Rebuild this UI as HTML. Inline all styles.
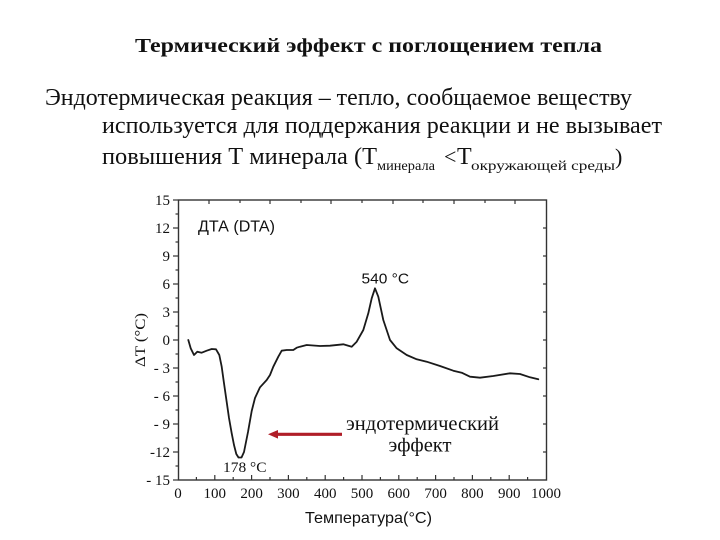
<!DOCTYPE html>
<html><head><meta charset="utf-8"><style>
html,body{margin:0;padding:0;background:#fff;}
svg{display:block;}
.serif{font-family:"Liberation Serif","Noto Serif CJK SC",serif;fill:#111;}
.sans{font-family:"Liberation Sans","Noto Sans CJK SC",sans-serif;fill:#111;}
</style></head><body>
<svg width="720" height="540" viewBox="0 0 720 540" xmlns="http://www.w3.org/2000/svg">
<rect width="720" height="540" fill="#fff"/>
<!-- heading text -->
<text class="serif" x="135" y="52" font-size="20" font-weight="bold" textLength="467" lengthAdjust="spacingAndGlyphs">Термический эффект с поглощением тепла</text>
<text class="serif" x="45" y="105" font-size="24" textLength="587" lengthAdjust="spacingAndGlyphs">Эндотермическая реакция – тепло, сообщаемое веществу</text>
<text class="serif" x="102" y="133" font-size="24" textLength="560" lengthAdjust="spacingAndGlyphs">используется для поддержания реакции и не вызывает</text>
<text class="serif" x="102" y="164" font-size="24" textLength="275" lengthAdjust="spacingAndGlyphs">повышения Т минерала (Т</text>
<text class="serif" x="377" y="170" font-size="14" textLength="58" lengthAdjust="spacingAndGlyphs">минерала</text>
<text class="serif" x="444" y="164" font-size="22">&lt;</text>
<text class="serif" x="457" y="164" font-size="24">Т</text>
<text class="serif" x="471" y="170" font-size="14" textLength="144" lengthAdjust="spacingAndGlyphs">окружающей среды</text>
<text class="serif" x="615" y="164" font-size="22">)</text>

<!-- axes frame -->
<rect x="178.5" y="200" width="368" height="280" fill="none" stroke="#333" stroke-width="1.4"/>
<g stroke="#333" stroke-width="1.2">
<!-- left major ticks -->
<line x1="173" y1="200" x2="178" y2="200"/>
<line x1="173" y1="228" x2="178" y2="228"/>
<line x1="173" y1="256" x2="178" y2="256"/>
<line x1="173" y1="284" x2="178" y2="284"/>
<line x1="173" y1="312" x2="178" y2="312"/>
<line x1="173" y1="340" x2="178" y2="340"/>
<line x1="173" y1="368" x2="178" y2="368"/>
<line x1="173" y1="396" x2="178" y2="396"/>
<line x1="173" y1="424" x2="178" y2="424"/>
<line x1="173" y1="452" x2="178" y2="452"/>
<line x1="173" y1="480" x2="178" y2="480"/>
<!-- left minor ticks -->
<line x1="175.5" y1="214" x2="178" y2="214"/>
<line x1="175.5" y1="242" x2="178" y2="242"/>
<line x1="175.5" y1="270" x2="178" y2="270"/>
<line x1="175.5" y1="298" x2="178" y2="298"/>
<line x1="175.5" y1="326" x2="178" y2="326"/>
<line x1="175.5" y1="354" x2="178" y2="354"/>
<line x1="175.5" y1="382" x2="178" y2="382"/>
<line x1="175.5" y1="410" x2="178" y2="410"/>
<line x1="175.5" y1="438" x2="178" y2="438"/>
<line x1="175.5" y1="466" x2="178" y2="466"/>
<!-- right ticks -->
<line x1="543" y1="228" x2="546" y2="228"/>
<line x1="543" y1="256" x2="546" y2="256"/>
<line x1="543" y1="284" x2="546" y2="284"/>
<line x1="543" y1="312" x2="546" y2="312"/>
<line x1="543" y1="340" x2="546" y2="340"/>
<line x1="543" y1="368" x2="546" y2="368"/>
<line x1="543" y1="396" x2="546" y2="396"/>
<line x1="543" y1="424" x2="546" y2="424"/>
<line x1="543" y1="452" x2="546" y2="452"/>
<!-- bottom ticks (every 50) -->
<line x1="196.4" y1="477" x2="196.4" y2="480"/>
<line x1="214.8" y1="475" x2="214.8" y2="480"/>
<line x1="233.2" y1="477" x2="233.2" y2="480"/>
<line x1="251.6" y1="475" x2="251.6" y2="480"/>
<line x1="270" y1="477" x2="270" y2="480"/>
<line x1="288.4" y1="475" x2="288.4" y2="480"/>
<line x1="306.8" y1="477" x2="306.8" y2="480"/>
<line x1="325.2" y1="475" x2="325.2" y2="480"/>
<line x1="343.6" y1="477" x2="343.6" y2="480"/>
<line x1="362" y1="475" x2="362" y2="480"/>
<line x1="380.4" y1="477" x2="380.4" y2="480"/>
<line x1="398.8" y1="475" x2="398.8" y2="480"/>
<line x1="417.2" y1="477" x2="417.2" y2="480"/>
<line x1="435.6" y1="475" x2="435.6" y2="480"/>
<line x1="454" y1="477" x2="454" y2="480"/>
<line x1="472.4" y1="475" x2="472.4" y2="480"/>
<line x1="490.8" y1="477" x2="490.8" y2="480"/>
<line x1="509.2" y1="475" x2="509.2" y2="480"/>
<line x1="527.6" y1="477" x2="527.6" y2="480"/>
<!-- top ticks -->
<line x1="209" y1="200" x2="209" y2="204"/>
<line x1="240" y1="200" x2="240" y2="203"/>
<line x1="270" y1="200" x2="270" y2="204"/>
<line x1="301" y1="200" x2="301" y2="203"/>
<line x1="331" y1="200" x2="331" y2="204"/>
<line x1="362" y1="200" x2="362" y2="203"/>
<line x1="393" y1="200" x2="393" y2="204"/>
<line x1="423" y1="200" x2="423" y2="203"/>
<line x1="454" y1="200" x2="454" y2="204"/>
<line x1="485" y1="200" x2="485" y2="203"/>
<line x1="515" y1="200" x2="515" y2="204"/>
</g>

<!-- y tick labels -->
<g class="serif" font-size="15" text-anchor="end">
<text x="170" y="205">15</text>
<text x="170" y="233">12</text>
<text x="170" y="261">9</text>
<text x="170" y="289">6</text>
<text x="170" y="317">3</text>
<text x="170" y="345">0</text>
<text x="170" y="373">- 3</text>
<text x="170" y="401">- 6</text>
<text x="170" y="429">- 9</text>
<text x="170" y="457">-12</text>
<text x="170" y="485">- 15</text>
</g>
<!-- x tick labels -->
<g class="serif" font-size="15" text-anchor="middle">
<text x="178" y="498">0</text>
<text x="214.8" y="498">100</text>
<text x="251.6" y="498">200</text>
<text x="288.4" y="498">300</text>
<text x="325.2" y="498">400</text>
<text x="362" y="498">500</text>
<text x="398.8" y="498">600</text>
<text x="435.6" y="498">700</text>
<text x="472.4" y="498">800</text>
<text x="509.2" y="498">900</text>
<text x="546" y="498">1000</text>
</g>
<text class="sans" x="305" y="523" font-size="16" textLength="127" lengthAdjust="spacingAndGlyphs">Температура(°C)</text>
<text class="serif" font-size="15" text-anchor="middle" transform="translate(145,340) rotate(-90)" textLength="54" lengthAdjust="spacingAndGlyphs">ΔT (°C)</text>

<!-- chart annotations -->
<text class="sans" x="198" y="231.5" font-size="16" textLength="77" lengthAdjust="spacingAndGlyphs">ДТА (DTA)</text>
<text class="sans" x="361.5" y="283.5" font-size="15" textLength="47.5" lengthAdjust="spacingAndGlyphs">540 °C</text>
<text class="serif" x="223" y="472" font-size="15" textLength="43.5" lengthAdjust="spacingAndGlyphs">178 °C</text>
<text class="serif" x="346" y="430" font-size="20" textLength="153" lengthAdjust="spacingAndGlyphs">эндотермический</text>
<text class="serif" x="388.5" y="451.5" font-size="20" textLength="63" lengthAdjust="spacingAndGlyphs">эффект</text>

<!-- red arrow -->
<line x1="276" y1="434.3" x2="342" y2="434.3" stroke="#b01e28" stroke-width="3.2"/>
<polygon points="268,434.3 278,430 278,438.6" fill="#b01e28"/>

<!-- DTA curve -->
<polyline fill="none" stroke="#1a1a1a" stroke-width="1.8" stroke-linejoin="round" stroke-linecap="round" points="
188.3,340 190.7,348.3 194,355 197.3,351.7 201.7,352.7 206.7,350.7 211.7,349 216,349.3 219.3,355 221.7,366.7 224,383.3 226.7,402 229,418 231.7,433.3 234,445 236.3,454 238.5,457.5 241.5,457.5 244,452 246,442 248,432 251.7,411 255,398 260,387.3 266.7,380 270,375 273.3,366.7 278.3,356.7 281.7,350.7 286.7,350 293.3,350 296.7,347.7 300,346.7 306.7,345 320,346 330,345.7 343.3,344.3 351.7,346.7 356.7,341.7 363.3,330 368.3,313.3 371.7,298.3 375,288.3 378.3,296.7 383.3,320 390,340 396.7,348.3 406.7,355 416.7,359.3 426.7,361.7 440,366 453.3,370.7 461.7,372.7 470,376.7 480,377.7 493.3,376 510,373.3 520,374 530,377.3 538.3,379.3"/>
</svg>
</body></html>
